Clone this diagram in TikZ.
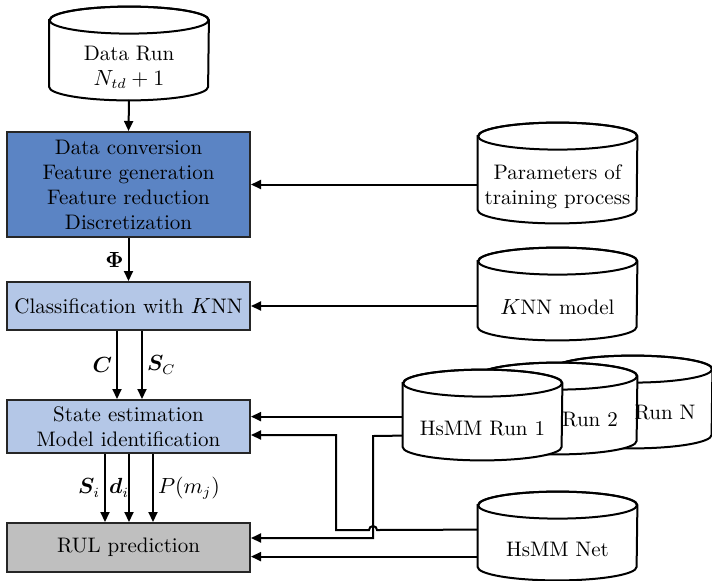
\documentclass[tikz,border=0pt]{standalone}
\usepackage{amsmath}
\usepackage{bm}
\usetikzlibrary{arrows.meta,calc,backgrounds}

\definecolor{procdark}{HTML}{5B84C4}
\definecolor{proclight}{HTML}{B4C7E7}
\definecolor{procgray}{HTML}{BFBFBF}

\tikzset{
  every node/.style={font=\fontsize{10.5}{12.5}\selectfont},
  box/.style={draw=black!85, line width=1pt, minimum width=121.5pt, align=center, inner sep=1pt},
  dbbody/.style={minimum width=79.5pt, align=center, inner sep=0pt},
  arr/.style={line width=1pt, -{Triangle[length=5pt,width=4.5pt]}},
  lbl/.style={inner sep=2pt},
}

% cylinder outline around a body node (#1), end-cap half height 6.75pt
\newcommand\drum[1]{%
  \begin{scope}[on background layer]
    \draw[line width=1pt, fill=white]
      ([yshift=6.75pt]#1.north west) -- ([yshift=6.75pt]#1.south west)
      arc[start angle=180, end angle=360, x radius=39.75pt, y radius=6.75pt]
      -- ([yshift=6.75pt]#1.north east)
      arc[start angle=0, end angle=180, x radius=39.75pt, y radius=6.75pt] -- cycle;
    \draw[line width=1pt] ([yshift=6.75pt]#1.north) ellipse[x radius=39.75pt, y radius=6.75pt];
  \end{scope}}

\begin{document}
\begin{tikzpicture}[x=0.5pt, y=-0.5pt]
\useasboundingbox (0,0) rectangle (712,580);

% process boxes
\node[box, fill=procdark, minimum height=52.5pt] (prep) at (128.5,184.5)
  {Data conversion\\Feature generation\\Feature reduction\\Discretization};
\node[box, fill=proclight, minimum height=24pt] (cls) at (128.5,306)
  {Classification with $K$NN};
\node[box, fill=proclight, minimum height=26.5pt] (est) at (128.5,426.5)
  {State estimation\\Model identification};
\node[box, fill=procgray, minimum height=24.5pt] (rul) at (128.5,547.5)
  {RUL prediction};

% data stores
\node[dbbody, minimum height=33pt] (data) at (129,67) {Data Run\\$N_{td}+1$};
\drum{data}
\node[dbbody, minimum height=36.5pt] (par) at (557.5,186.5) {Parameters of\\training process};
\drum{par}
\node[dbbody, minimum height=32.5pt] (knn) at (557.5,307.5) {$K$NN model};
\drum{knn}

\node[dbbody, minimum height=32.5pt] (runN) at (632.5,415.5) {};
\drum{runN}
\node[dbbody, minimum height=32pt] (run2) at (557.5,422) {};
\drum{run2}
\node[dbbody, minimum height=31.5pt] (run1) at (482.5,428.5) {HsMM Run 1};
\drum{run1}
\node (run2txt) at (590,420) {Run 2};
\node (runNtxt) at (665,413) {Run N};

\node[dbbody, minimum height=30.5pt] (net) at (557.5,549.5) {HsMM Net};
\drum{net}

% main flow
\draw[arr] (data.south |- 0,100) -- (prep.north);
\draw[arr] (prep.south) -- node[lbl, left] {$\bm{\Phi}$} (cls.north);
\draw[arr] ([xshift=-5.75pt]cls.south) -- node[lbl, left] {$\bm{C}$} ([xshift=-5.75pt]est.north);
\draw[arr] ([xshift=6.75pt]cls.south) -- node[lbl, right] {$\bm{S}_C$} ([xshift=6.75pt]est.north);
\draw[arr] ([xshift=-11.75pt]est.south) -- node[lbl, left] {$\bm{S}_i$}
  node[right, inner sep=1.5pt] {$\bm{d}_i$} ([xshift=-11.75pt]rul.north);
\draw[arr] ([xshift=0.25pt]est.south) -- ([xshift=0.25pt]rul.north);
\draw[arr] ([xshift=12.25pt]est.south) -- node[lbl, right] {$P(m_j)$} ([xshift=12.25pt]rul.north);

% inputs from the stores
\draw[arr] (prep.east -| par.west) -- (prep.east);
\draw[arr] (cls.east -| knn.west) -- (cls.east);

\coordinate (r1a) at ($(run1.north west)+(0,20)$);
\coordinate (r1b) at ($(run1.north west)+(0,39)$);
\coordinate (nta) at ($(net.north west)+(0,11)$);
\coordinate (ntb) at ($(net.north west)+(0,38)$);

\draw[arr] (r1a) -- (r1a -| est.east);
\draw[arr] (r1b) -- (373,436) -- (373,538) -- (rul.east |- 0,538);
\draw[arr] (nta) -- (377,530) arc[start angle=0, end angle=180, radius=2pt]
  -- (336,530) -- (336,435) -- (est.east |- 0,435);
\draw[arr] (ntb) -- (ntb -| rul.east);
\end{tikzpicture}
\end{document}
